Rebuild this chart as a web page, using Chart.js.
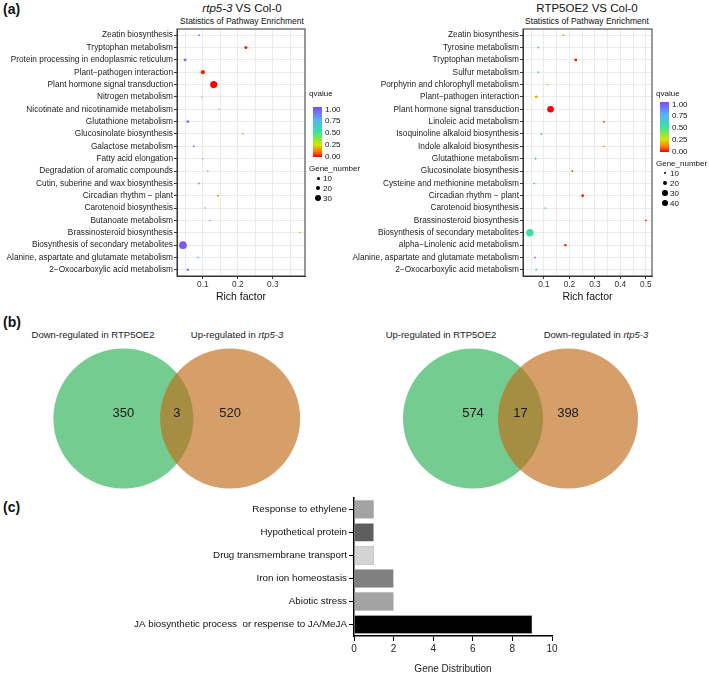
<!DOCTYPE html>
<html>
<head>
<meta charset="utf-8">
<script src="https://cdn.jsdelivr.net/npm/chart.js@4.4.1/dist/chart.umd.min.js"></script>
<style>
  body { margin: 0; background: #fff; font-family: "Liberation Sans", Arial, sans-serif; }
  #page { position: relative; width: 709px; height: 675px; overflow: hidden; }
  canvas, .t { position: absolute; }
  .t { white-space: nowrap; transform: translateY(-50%); color: #111; }
  .c { transform: translate(-50%, -50%); }
  .panel { font-weight: bold; font-size: 14px; }
  .ttl { font-size: 11.5px; }
  .sub { font-size: 8.5px; }
  .lg { font-size: 8px; }
  .set { font-size: 9.5px; color: #222; }
  .bar { position: absolute; width: 9px; height: 50px; }
  .dot { position: absolute; background: #000; border-radius: 50%; }
</style>
</head>
<body>
<div id="page">
  <div class="t panel" style="left:3px;top:9px">(a)</div>
  <div class="t panel" style="left:3px;top:322px">(b)</div>
  <div class="t panel" style="left:3px;top:507px">(c)</div>

  <div class="t c ttl" style="left:242px;top:8px"><i>rtp5-3</i> VS Col-0</div>
  <div class="t c sub" style="left:242px;top:21px">Statistics of Pathway Enrichment</div>
  <div class="t c ttl" style="left:587px;top:8px">RTP5OE2 VS Col-0</div>
  <div class="t c sub" style="left:587px;top:21px">Statistics of Pathway Enrichment</div>

  <canvas id="mutChart" width="312" height="306" style="left:0;top:0"></canvas>
  <canvas id="oeChart" width="320" height="306" style="left:340px;top:0"></canvas>
  <div id="legends"></div>

  <div class="t c set" style="left:93px;top:334px">Down-regulated in RTP5OE2</div>
  <div class="t c set" style="left:237px;top:334px">Up-regulated in <i>rtp5-3</i></div>
  <div class="t c set" style="left:441px;top:334px">Up-regulated in RTP5OE2</div>
  <div class="t c set" style="left:596px;top:334px">Down-regulated in <i>rtp5-3</i></div>
  <canvas id="venn1" width="354" height="157" style="left:0;top:340px"></canvas>
  <canvas id="venn2" width="355" height="157" style="left:354px;top:340px"></canvas>

  <canvas id="goChart" width="440" height="185" style="left:130px;top:490px"></canvas>
</div>
<script>
// (a) rtp5-3 vs Col-0
const mutPathways = ['Zeatin biosynthesis', 'Tryptophan metabolism', 'Protein processing in endoplasmic reticulum',
  'Plant\u2212pathogen interaction', 'Plant hormone signal transduction', 'Nitrogen metabolism',
  'Nicotinate and nicotinamide metabolism', 'Glutathione metabolism', 'Glucosinolate biosynthesis',
  'Galactose metabolism', 'Fatty acid elongation', 'Degradation of aromatic compounds',
  'Cutin, suberine and wax biosynthesis', 'Circadian rhythm \u2212 plant', 'Carotenoid biosynthesis',
  'Butanoate metabolism', 'Brassinosteroid biosynthesis', 'Biosynthesis of secondary metabolites',
  'Alanine, aspartate and glutamate metabolism', '2\u2212Oxocarboxylic acid metabolism'];
const mutRich = [0.089, 0.223, 0.049, 0.100, 0.131, 0.097, 0.146, 0.057, 0.214, 0.074,
  0.100, 0.114, 0.089, 0.143, 0.106, 0.120, 0.377, 0.043, 0.086, 0.057];
const mutQ = [0.85, 0.02, 0.92, 0.03, 0.0, 0.74, 0.74, 0.9, 0.12, 0.86,
  0.74, 0.8, 0.82, 0.15, 0.74, 0.8, 0.15, 0.97, 0.74, 0.9];
const mutGenes = [4, 10, 9, 17, 33, 2, 2, 8, 2, 4, 2, 2, 3, 5, 2, 2, 2, 36, 3, 7];
const mutTicks = [0.05, 0.1, 0.15, 0.2, 0.25, 0.3, 0.35];
const mutSizeBreaks = [10, 20, 30];

// RTP5OE2 vs Col-0
const oePathways = ['Zeatin biosynthesis', 'Tyrosine metabolism', 'Tryptophan metabolism', 'Sulfur metabolism',
  'Porphyrin and chlorophyll metabolism', 'Plant\u2212pathogen interaction', 'Plant hormone signal transduction',
  'Linoleic acid metabolism', 'Isoquinoline alkaloid biosynthesis', 'Indole alkaloid biosynthesis',
  'Glutathione metabolism', 'Glucosinolate biosynthesis', 'Cysteine and methionine metabolism',
  'Circadian rhythm \u2212 plant', 'Carotenoid biosynthesis', 'Brassinosteroid biosynthesis',
  'Biosynthesis of secondary metabolites', 'alpha\u2212Linolenic acid metabolism',
  'Alanine, aspartate and glutamate metabolism', '2\u2212Oxocarboxylic acid metabolism'];
const oeRich = [0.176, 0.078, 0.225, 0.078, 0.114, 0.070, 0.126, 0.335, 0.090, 0.335,
  0.067, 0.212, 0.062, 0.252, 0.106, 0.500, 0.045, 0.184, 0.065, 0.070];
const oeQ = [0.15, 0.62, 0.02, 0.62, 0.3, 0.18, 0.0, 0.04, 0.7, 0.15,
  0.6, 0.06, 0.6, 0.02, 0.62, 0.04, 0.55, 0.03, 0.82, 0.56];
const oeGenes = [2, 3, 10, 3, 3, 10, 40, 2, 2, 2, 4, 2, 3, 9, 1, 2, 46, 7, 3, 3];
const oeTicks = [0.05, 0.1, 0.15, 0.2, 0.25, 0.3, 0.35, 0.4, 0.45, 0.5];
const oeSizeBreaks = [10, 20, 30, 40];
const qBreaks = [1.00, 0.75, 0.50, 0.25, 0.00];

// (b) Venn sets
const vennSets1 = ['Down-regulated in RTP5OE2', 'Up-regulated in rtp5-3'];
const vennCounts1 = [350, 3, 520];
const vennSets2 = ['Up-regulated in RTP5OE2', 'Down-regulated in rtp5-3'];
const vennCounts2 = [574, 17, 398];

// (c) gene distribution
const goTerms = ['Response to ethylene', 'Hypothetical protein', 'Drug transmembrane transport',
  'Iron ion homeostasis', 'Abiotic stress', 'JA biosynthetic process  or respense to JA/MeJA'];
const goCounts = [1, 1, 1, 2, 2, 9];
const goTicks = [0, 2, 4, 6, 8, 10];

Chart.defaults.font.family = '"Liberation Sans", Arial, sans-serif';

// qvalue colour ramp (red -> violet)
const rampStops = [[0, [255, 0, 0]], [0.12, [255, 130, 0]], [0.25, [212, 230, 0]], [0.5, [50, 232, 150]],
  [0.75, [90, 175, 255]], [1, [128, 70, 255]]];
function qColor(q) {
  for (let i = 1; i < rampStops.length; i++) {
    if (q <= rampStops[i][0]) {
      const [q0, c0] = rampStops[i - 1], [q1, c1] = rampStops[i];
      const f = (q - q0) / (q1 - q0);
      const c = c0.map((v, k) => Math.round(v + (c1[k] - v) * f));
      return `rgb(${c[0]},${c[1]},${c[2]})`;
    }
  }
  return 'rgb(128,70,255)';
}
const mutRadius = n => 0.6 + 0.09 * n;
const oeRadius = n => 0.8 + 0.063 * n;

const frame = {
  id: 'frame',
  afterDraw(chart) {
    const a = chart.chartArea, c = chart.ctx;
    c.save();
    c.strokeStyle = '#333';
    c.lineWidth = 1;
    c.strokeRect(a.left, a.top, a.right - a.left, a.bottom - a.top);
    c.restore();
  }
};
const isMajor = v => Math.abs(v * 10 - Math.round(v * 10)) < 1e-6;

function dotChart(id, pathways, rich, q, genes, rFn, xMin, xMax, ticks, yWidth, padRight) {
  new Chart(document.getElementById(id), {
    type: 'bubble',
    data: {
      labels: pathways,
      datasets: [{
        data: pathways.map((p, i) => ({ x: rich[i], y: p, r: rFn(genes[i]) })),
        backgroundColor: q.map(qColor),
        borderWidth: 0
      }]
    },
    options: {
      responsive: false, animation: false, events: [],
      layout: { padding: { top: 29, right: padRight, left: 0, bottom: 0 } },
      plugins: { legend: { display: false }, tooltip: { enabled: false } },
      scales: {
        x: {
          type: 'linear', min: xMin, max: xMax,
          afterBuildTicks: s => { s.ticks = ticks.map(v => ({ value: v })); },
          afterFit: s => { s.height = 30; },
          ticks: { autoSkip: false, maxRotation: 0, padding: 1, color: '#333', font: { size: 8.3 },
            callback: v => isMajor(v) ? v.toFixed(1) : '' },
          grid: { color: '#ebebeb', tickLength: 3, tickColor: ctx => isMajor(ctx.tick.value) ? '#333' : 'rgba(0,0,0,0)' },
          border: { color: '#333' },
          title: { display: true, text: 'Rich factor', color: '#111', font: { size: 10.5 }, padding: { top: 1, bottom: 3 } }
        },
        y: {
          type: 'category', offset: true,
          afterFit: s => { s.width = yWidth; },
          ticks: { autoSkip: false, padding: 1, color: '#222', font: { size: 8.3 } },
          grid: { offset: false, color: '#ebebeb', tickLength: 3, tickColor: '#333' },
          border: { color: '#333' }
        }
      }
    },
    plugins: [frame]
  });
}
dotChart('mutChart', mutPathways, mutRich, mutQ, mutGenes, mutRadius, 0.026, 0.392, mutTicks, 177, 7);
dotChart('oeChart', oePathways, oeRich, oeQ, oeGenes, oeRadius, 0.018, 0.524, oeTicks, 183, 8);

// legends for the two dot plots
function legend(x, qTop, barTop, sizeTitleY, breaks, rFn, dotX) {
  const box = document.getElementById('legends');
  let html = `<div class="t lg" style="left:${x}px;top:${qTop}px">qvalue</div>`;
  const grad = rampStops.map(s => `${qColor(s[0])} ${s[0] * 100}%`).join(',');
  html += `<div class="bar" style="left:${x + 4}px;top:${barTop}px;background:linear-gradient(to top,${grad})"></div>`;
  qBreaks.forEach(b => {
    const y = barTop + 1.5 + (1 - b) * 47;
    html += `<div class="t lg" style="left:${x + 16}px;top:${y}px">${b.toFixed(2)}</div>`;
  });
  html += `<div class="t lg" style="left:${x}px;top:${sizeTitleY}px">Gene_number</div>`;
  breaks.forEach((b, i) => {
    const y = sizeTitleY + 10 + i * 10, r = rFn(b);
    html += `<div class="dot" style="left:${dotX - r}px;top:${y - r}px;width:${2 * r}px;height:${2 * r}px"></div>`;
    html += `<div class="t lg" style="left:${dotX + 5}px;top:${y}px">${b}</div>`;
  });
  box.insertAdjacentHTML('beforeend', html);
}
legend(309, 93, 107, 168, mutSizeBreaks, mutRadius, 318);
legend(656, 93, 102, 163, oeSizeBreaks, oeRadius, 665);

// Venn diagrams
const vennNumbers = {
  id: 'vennNumbers',
  afterDatasetsDraw(chart, args, opts) {
    const pts = chart.getDatasetMeta(0).data, c = chart.ctx;
    const xs = [pts[0].x, (pts[0].x + pts[1].x) / 2, pts[1].x];
    c.save();
    c.fillStyle = '#1a1a1a';
    c.font = '13px "Liberation Sans", Arial, sans-serif';
    c.textAlign = 'center';
    c.textBaseline = 'middle';
    opts.counts.forEach((n, i) => c.fillText(String(n), xs[i], pts[0].y - 5));
    c.restore();
  }
};
function venn(id, sets, counts, padL, padR) {
  new Chart(document.getElementById(id), {
    type: 'bubble',
    data: {
      labels: sets,
      datasets: [{
        data: sets.map(s => ({ x: s, y: 0.5, r: 70 })),
        backgroundColor: ['rgb(116,204,144)', 'rgba(192,108,25,0.65)'],
        borderWidth: 0,
        clip: false
      }]
    },
    options: {
      responsive: false, animation: false, events: [],
      layout: { padding: { left: padL, right: padR, top: 9, bottom: 7 } },
      plugins: { legend: { display: false }, tooltip: { enabled: false }, vennNumbers: { counts } },
      scales: {
        x: { type: 'category', offset: true, display: false },
        y: { type: 'linear', min: 0, max: 1, display: false }
      }
    },
    plugins: [vennNumbers]
  });
}
venn('venn1', vennSets1, vennCounts1, 65.5, 70.5);
venn('venn2', vennSets2, vennCounts2, 71.5, 93.5);

// (c) horizontal bars
new Chart(document.getElementById('goChart'), {
  type: 'bar',
  data: {
    labels: goTerms,
    datasets: [{
      data: goCounts,
      backgroundColor: ['#a3a3a3', '#5e5e5e', '#d4d4d4', '#808080', '#a3a3a3', '#000000'],
      borderColor: '#6a6a6a',
      borderWidth: 0.5,
      barPercentage: 0.8,
      categoryPercentage: 1
    }]
  },
  options: {
    indexAxis: 'y',
    responsive: false, animation: false, events: [],
    layout: { padding: { top: 7, right: 18, left: 0, bottom: 0 } },
    plugins: { legend: { display: false }, tooltip: { enabled: false } },
    scales: {
      x: {
        type: 'linear', min: 0, max: 10,
        afterBuildTicks: s => { s.ticks = goTicks.map(v => ({ value: v })); },
        afterFit: s => { s.height = 39; },
        ticks: { color: '#222', font: { size: 10 }, padding: 2 },
        grid: { drawOnChartArea: false, color: '#000', tickLength: 5 },
        border: { color: '#000', width: 1.5 },
        title: { display: true, text: 'Gene Distribution', color: '#222', font: { size: 10 }, padding: { top: 4, bottom: 0 } }
      },
      y: {
        afterFit: s => { s.width = 224; },
        ticks: { color: '#111', font: { size: 9.8 }, padding: 2 },
        grid: { drawOnChartArea: false, offset: false, color: '#000', tickLength: 5 },
        border: { color: '#000', width: 1.5 }
      }
    }
  }
});
</script>
</body>
</html>
